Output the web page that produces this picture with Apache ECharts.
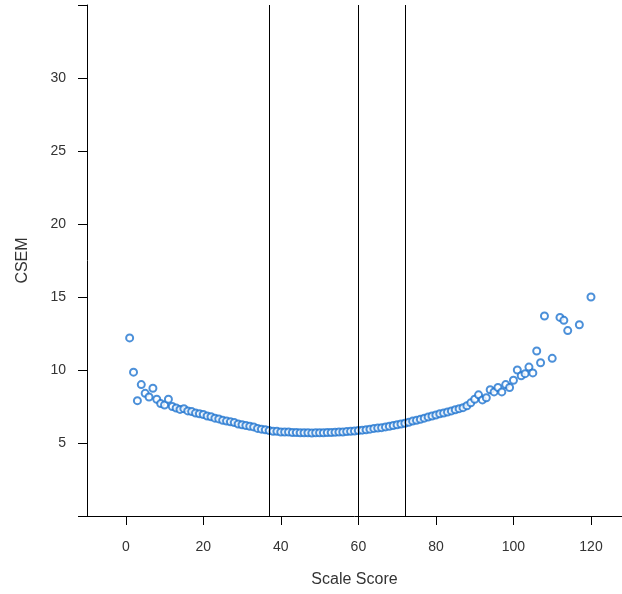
<!DOCTYPE html>
<html>
<head>
  <meta charset="utf-8">
  <title>CSEM</title>
  <script src="https://cdn.jsdelivr.net/npm/echarts@6/dist/echarts.min.js"></script>
  <style>
    html, body { margin: 0; padding: 0; background: #fff; }
    #chart { width: 622px; height: 594px; }
  </style>
</head>
<body>
  <div id="chart"></div>
  <script>
    // scale scores and their CSEM
    var scores = [
      1, 2, 3, 4, 5, 6, 7, 8, 9, 10, 11, 12, 13, 14, 15, 16, 17, 18, 19, 20,
      21, 22, 23, 24, 25, 26, 27, 28, 29, 30, 31, 32, 33, 34, 35, 36, 37, 38, 39, 40,
      41, 42, 43, 44, 45, 46, 47, 48, 49, 50, 51, 52, 53, 54, 55, 56, 57, 58, 59, 60,
      61, 62, 63, 64, 65, 66, 67, 68, 69, 70, 71, 72, 73, 74, 75, 76, 77, 78, 79, 80,
      81, 82, 83, 84, 85, 86, 87, 88, 89, 90, 91, 92, 93, 94, 95, 96, 97, 98, 99, 100,
      101, 102, 103, 104, 105, 106, 107, 108, 110, 112, 113, 114, 117, 120
    ];
    var csem = [
      12.2, 9.85, 7.9, 9.0, 8.4, 8.15, 8.75, 8.0, 7.7, 7.6, 8.0, 7.5, 7.4, 7.3, 7.35, 7.2, 7.15, 7.05, 7.0, 6.95,
      6.85, 6.8, 6.7, 6.65, 6.55, 6.5, 6.45, 6.4, 6.3, 6.25, 6.2, 6.15, 6.1, 6.0, 5.95, 5.9, 5.85, 5.8, 5.8, 5.75,
      5.75, 5.75, 5.72, 5.72, 5.7, 5.7, 5.7, 5.68, 5.7, 5.7, 5.7, 5.72, 5.72, 5.73, 5.75, 5.75, 5.78, 5.8, 5.82, 5.85,
      5.88, 5.9, 5.95, 6.0, 6.02, 6.05, 6.1, 6.15, 6.2, 6.25, 6.3, 6.35, 6.42, 6.5, 6.55, 6.62, 6.7, 6.78, 6.85, 6.92,
      7.0, 7.05, 7.12, 7.2, 7.28, 7.35, 7.42, 7.55, 7.75, 8.0, 8.3, 7.95, 8.1, 8.65, 8.5, 8.8, 8.5, 9.0, 8.8, 9.3,
      10.0, 9.6, 9.75, 10.2, 9.8, 11.3, 10.5, 13.7, 10.8, 13.6, 13.4, 12.7, 13.1, 15.0
    ];
    var cutScores = [37, 60, 72];
    var xTicks = [0, 20, 40, 60, 80, 100, 120];

    var points = scores.map(function (s, i) { return [s, csem[i]]; });

    var chart = echarts.init(document.getElementById('chart'));
    chart.setOption({
      animation: false,
      textStyle: { fontFamily: 'Liberation Sans, Arial, sans-serif' },
      grid: { left: 87, right: 0, top: 5, bottom: 78 },
      xAxis: {
        type: 'value',
        min: -10,
        max: 128,
        name: 'Scale Score',
        nameLocation: 'middle',
        nameGap: 56,
        nameTextStyle: { fontSize: 16, color: '#333' },
        splitLine: { show: false },
        axisLine: { onZero: false, lineStyle: { color: '#000', width: 1 } },
        axisTick: { length: 9, customValues: xTicks, lineStyle: { color: '#000' } },
        axisLabel: { customValues: xTicks, margin: 24, fontSize: 14, color: '#333' }
      },
      yAxis: {
        type: 'value',
        min: 0,
        max: 35,
        interval: 5,
        name: 'CSEM',
        nameLocation: 'middle',
        nameGap: 56,
        nameTextStyle: { fontSize: 16, color: '#333' },
        splitLine: { show: false },
        axisLine: { onZero: false, lineStyle: { color: '#000', width: 1 } },
        axisTick: { length: 9, lineStyle: { color: '#000' } },
        axisLabel: {
          margin: 21,
          fontSize: 14,
          color: '#333',
          formatter: function (v) { return (v === 0 || v === 35) ? '' : v; }
        }
      },
      series: [{
        type: 'scatter',
        data: points,
        symbol: 'emptyCircle',
        symbolSize: 7,
        itemStyle: { color: '#1f74d0', borderColor: '#1f74d0', borderWidth: 1.2 },
        markLine: {
          silent: true,
          symbol: 'none',
          label: { show: false },
          lineStyle: { color: '#000', type: 'solid', width: 1 },
          data: cutScores.map(function (c) { return { xAxis: c }; })
        }
      }]
    });
  </script>
</body>
</html>
